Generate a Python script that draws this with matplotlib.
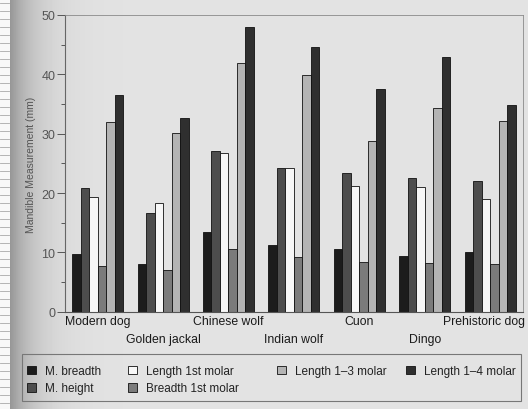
import matplotlib
matplotlib.use("Agg")
import matplotlib.pyplot as plt
from matplotlib.patches import Rectangle
from matplotlib.transforms import ScaledTranslation
import numpy as np

plt.rcParams['font.family'] = ['Liberation Sans', 'DejaVu Sans']

# данные
groups = ["Modern dog", "Golden jackal", "Chinese wolf", "Indian wolf",
          "Cuon", "Dingo", "Prehistoric dog"]
m_breadth = [9.7, 8.0, 13.4, 11.3, 10.6, 9.4, 10.1]
m_height = [20.9, 16.7, 27.1, 24.3, 23.4, 22.5, 22.0]
length_1st = [19.4, 18.3, 26.7, 24.3, 21.2, 21.0, 19.0]
breadth_1st = [7.7, 7.0, 10.6, 9.3, 8.4, 8.3, 8.0]
length_13 = [31.9, 30.2, 41.9, 39.9, 28.7, 34.4, 32.1]
length_14 = [36.5, 32.7, 47.9, 44.6, 37.6, 43.0, 34.8]

series = [
    ("M. breadth", m_breadth, "#1c1c1c"),
    ("M. height", m_height, "#4d4d4d"),
    ("Length 1st molar", length_1st, "#f7f7f7"),
    ("Breadth 1st molar", breadth_1st, "#7b7b7b"),
    ("Length 1\u20133 molar", length_13, "#b4b4b4"),
    ("Length 1\u20134 molar", length_14, "#2f2f2f"),
]

W, H = 528, 410
fig = plt.figure(figsize=(5.28, 4.10), dpi=100)
fig.patch.set_facecolor("#e2e2e2")

# фон страницы: тёмная полоса слева (переплёт)
bg = fig.add_axes([0, 0, 1, 1], zorder=-10)
grad = np.ones((10, W))
xs = np.arange(W)
grad[:] = np.where(xs < 10, 0.97, 0.89 - 0.3 * np.exp(-(xs - 10) / 25.0))
bg.imshow(grad, cmap="gray", vmin=0, vmax=1, aspect="auto",
          extent=[0, W, H, 0])
for y in range(4, H, 8):
    bg.plot([0, 9], [y, y], color="#a8a8a8", lw=0.6)
bg.set_xlim(0, W)
bg.set_ylim(H, 0)
bg.axis("off")

ax = fig.add_axes([0.123, 0.237, 0.867, 0.724])
ax.set_facecolor("none")

x = np.arange(len(groups))
width = 0.13
handles = []
for i, (name, vals, color) in enumerate(series):
    b = ax.bar(x + (i - 2.5) * width, vals, width, color=color,
               edgecolor="#111111", linewidth=0.6, label=name)
    handles.append(b)

ax.set_xlim(-0.5, 6.5)
ax.set_ylim(0, 50)
ax.set_yticks(np.arange(0, 51, 10))
ax.set_yticks(np.arange(5, 50, 10), minor=True)
ax.tick_params(axis="y", which="major", length=6, width=0.7, color="#555555",
               labelsize=9, labelcolor="#555555", pad=1)
ax.tick_params(axis="y", which="minor", length=3, width=0.7, color="#555555")
ax.set_ylabel("Mandible Measurement (mm)", fontsize=7.5, color="#555555",
              labelpad=4)

ax.set_xticks(x)
ax.set_xticklabels(groups, fontsize=8.8, color="#1a1a1a")
ax.tick_params(axis="x", length=0, pad=2)
for tick in ax.xaxis.get_major_ticks()[1::2]:
    tick.set_pad(15)
# последняя подпись упирается в край страницы — чуть сдвигаем влево
last = ax.get_xticklabels()[-1]
last.set_transform(last.get_transform()
                   + ScaledTranslation(-4 / 72, 0, fig.dpi_scale_trans))

for side in ["top", "right"]:
    ax.spines[side].set_color("#8a8a8a")
    ax.spines[side].set_linewidth(0.6)
ax.spines["left"].set_color("#666666")
ax.spines["bottom"].set_color("#555555")

# легенда: рамка + четыре столбца
fig.patches.append(Rectangle((22 / W, 1 - 402 / H), 499 / W, 47 / H,
                             transform=fig.transFigure, fill=False,
                             edgecolor="#777777", linewidth=0.8))
col_x = [27, 128, 277, 406]
cols = [handles[0:2], handles[2:4], handles[4:5], handles[5:6]]
for cx, hs in zip(col_x, cols):
    leg = fig.legend(handles=hs, loc="upper left",
                     bbox_to_anchor=(cx / W, 1 - 366 / H),
                     fontsize=8.5, frameon=False, borderpad=0,
                     borderaxespad=0, handlelength=0.75, handleheight=0.75,
                     handletextpad=0.8, labelspacing=0.45)
    for t in leg.get_texts():
        t.set_color("#222222")

fig.savefig("out.png", dpi=100, facecolor=fig.get_facecolor())
